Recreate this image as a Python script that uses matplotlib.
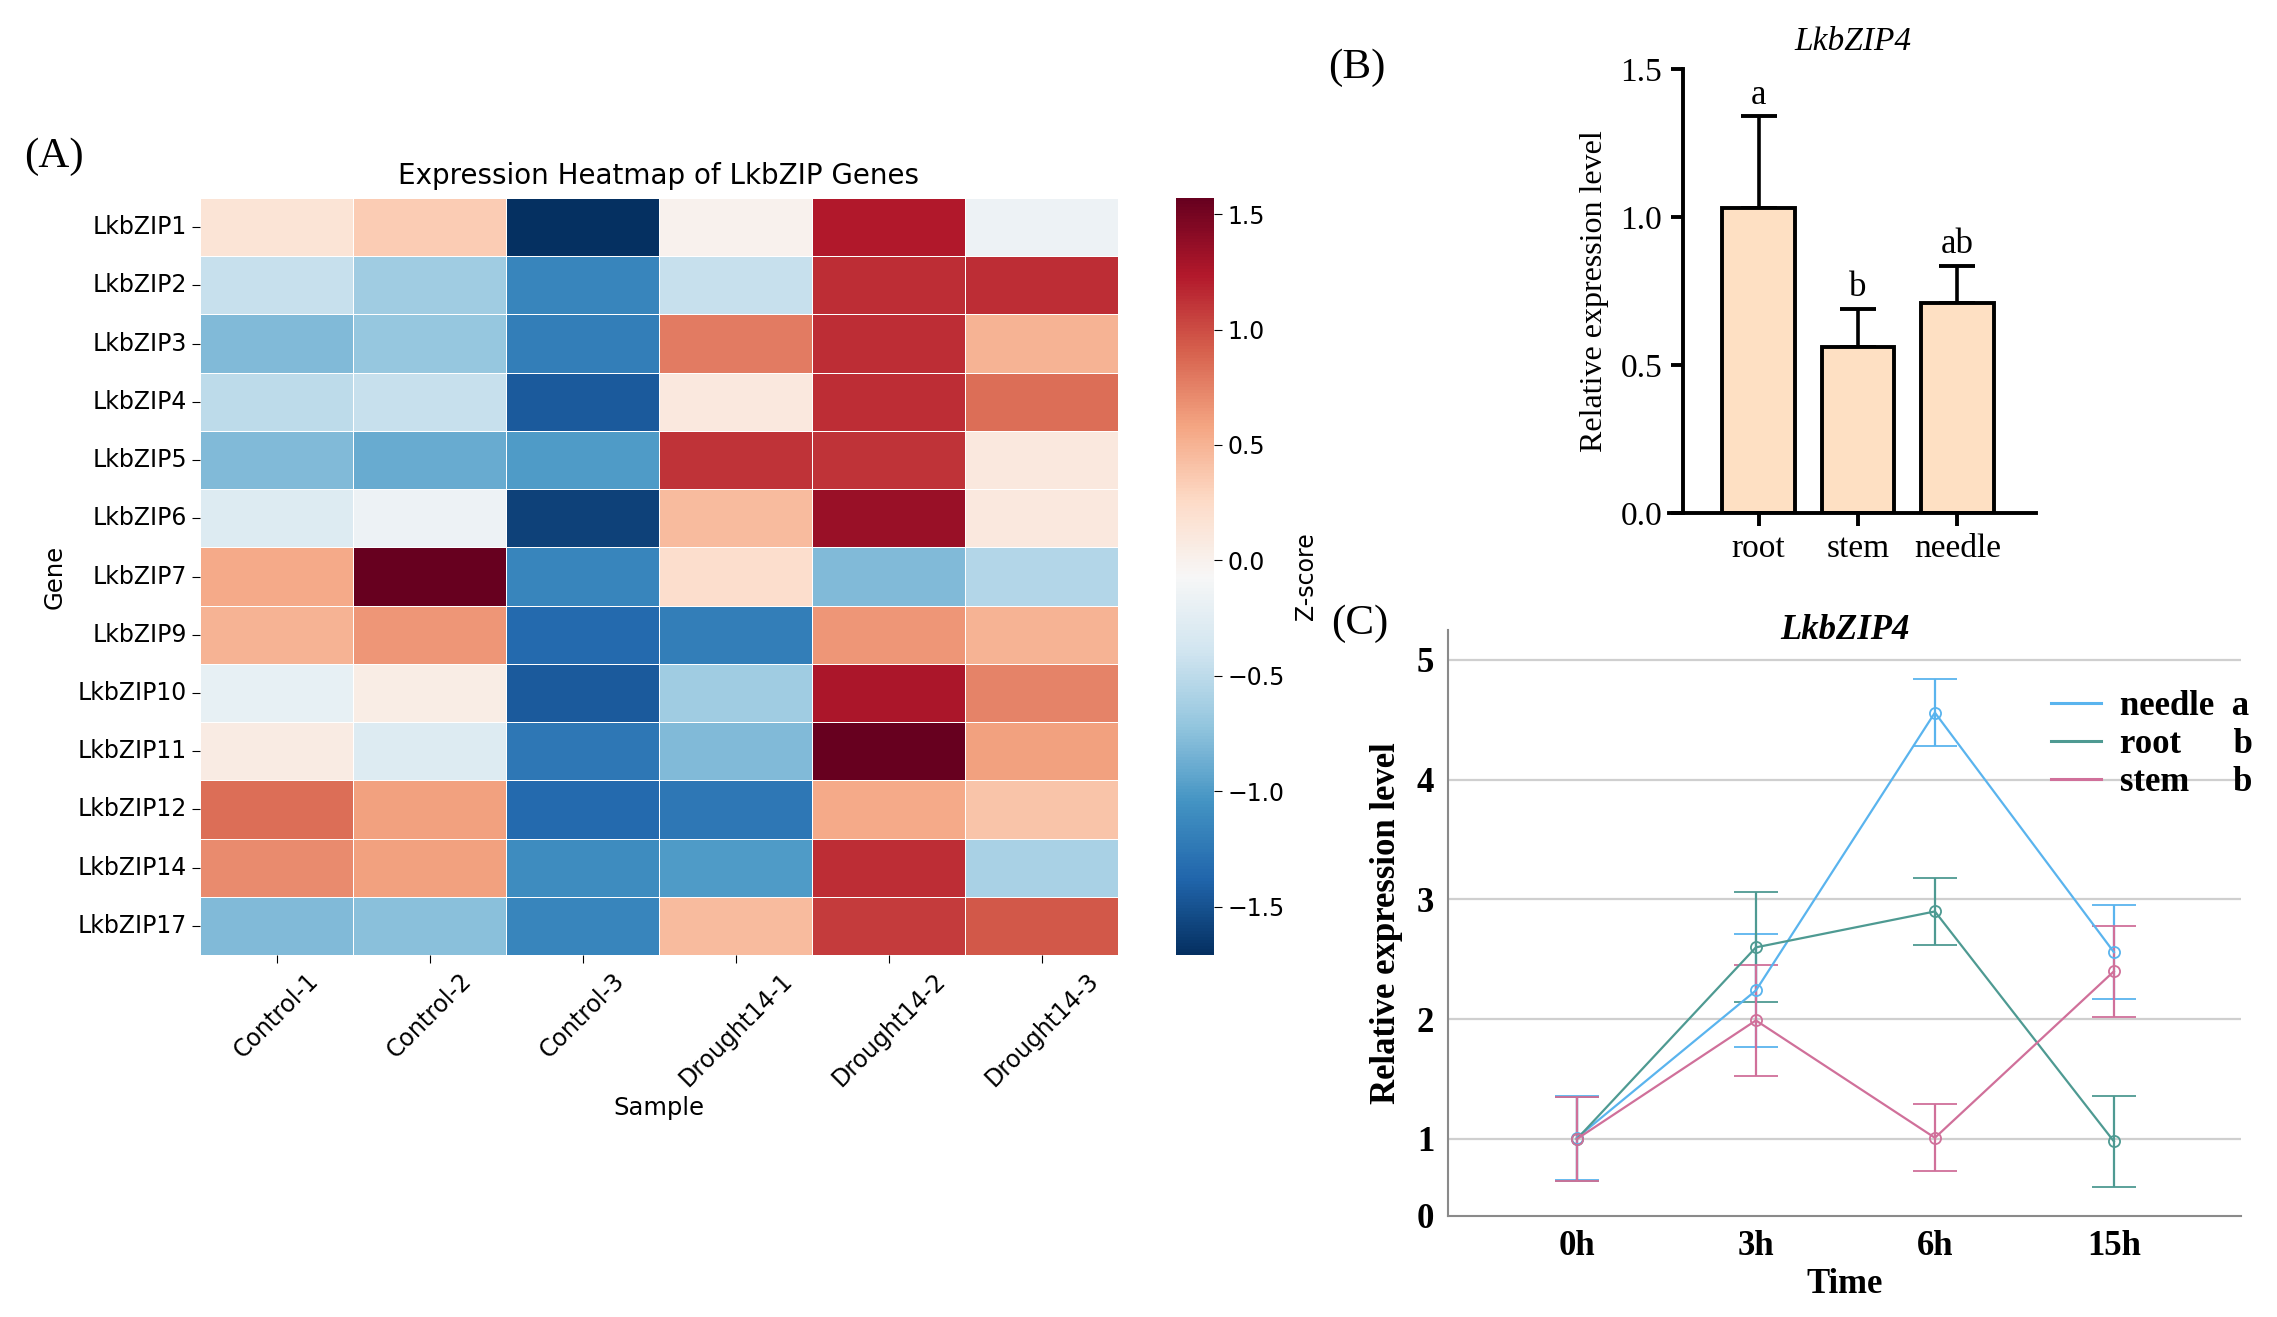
import matplotlib
matplotlib.use("Agg")
import matplotlib.pyplot as plt
from matplotlib.lines import Line2D
import numpy as np
import seaborn as sns

# ---- (A) heatmap data: z-scores per gene ----
genes = ["LkbZIP1", "LkbZIP2", "LkbZIP3", "LkbZIP4", "LkbZIP5", "LkbZIP6", "LkbZIP7",
         "LkbZIP9", "LkbZIP10", "LkbZIP11", "LkbZIP12", "LkbZIP14", "LkbZIP17"]
samples = ["Control-1", "Control-2", "Control-3", "Drought14-1", "Drought14-2", "Drought14-3"]
zscores = [
    [0.15, 0.35, -1.71, 0.00, 1.24, -0.15],
    [-0.45, -0.65, -1.15, -0.45, 1.14, 1.14],
    [-0.80, -0.70, -1.20, 0.78, 1.14, 0.50],
    [-0.50, -0.45, -1.45, 0.10, 1.14, 0.85],
    [-0.80, -0.90, -1.00, 1.11, 1.12, 0.10],
    [-0.30, -0.15, -1.60, 0.45, 1.34, 0.10],
    [0.55, 1.57, -1.15, 0.22, -0.80, -0.55],
    [0.50, 0.65, -1.35, -1.20, 0.65, 0.50],
    [-0.20, 0.05, -1.45, -0.65, 1.27, 0.75],
    [0.07, -0.30, -1.25, -0.80, 1.57, 0.60],
    [0.85, 0.60, -1.35, -1.25, 0.55, 0.40],
    [0.70, 0.60, -1.10, -1.00, 1.14, -0.60],
    [-0.80, -0.75, -1.15, 0.45, 1.08, 0.95],
]

# ---- (B) tissue expression ----
tissues = ["root", "stem", "needle"]
tissue_mean = [1.03, 0.56, 0.71]
tissue_err = [0.31, 0.13, 0.125]
tissue_sig = ["a", "b", "ab"]

# ---- (C) time course ----
times = ["0h", "3h", "6h", "15h"]
needle_mean = [1.01, 2.24, 4.56, 2.56]
needle_err = [0.35, 0.47, 0.28, 0.39]
root_mean = [1.00, 2.60, 2.90, 0.98]
root_err = [0.35, 0.46, 0.28, 0.38]
stem_mean = [1.00, 1.99, 1.01, 2.40]
stem_err = [0.35, 0.46, 0.28, 0.38]

W, H = 2277, 1317
fig = plt.figure(figsize=(W / 100, H / 100), dpi=100)


def px_axes(left, top, right, bottom):
    return fig.add_axes([left / W, 1 - bottom / H, (right - left) / W, (bottom - top) / H])


SERIF = "Liberation Serif"

# ---------------- (A) ----------------
ax = px_axes(200, 198, 1118, 955)
cax = px_axes(1176, 198, 1214, 955)
sns.heatmap(np.array(zscores), ax=ax, cbar_ax=cax, cmap="RdBu_r",
            linewidths=0.6, linecolor="white",
            xticklabels=samples, yticklabels=genes)
ax.set_title("Expression Heatmap of LkbZIP Genes", fontsize=20, pad=10)
ax.set_xlabel("Sample", fontsize=17.5)
ax.set_ylabel("Gene", fontsize=17.5, labelpad=8)
ax.tick_params(axis="both", labelsize=17, length=6)
plt.setp(ax.get_xticklabels(), rotation=45, ha="center")
plt.setp(ax.get_yticklabels(), rotation=0)
cax.tick_params(labelsize=17, length=6)
cax.set_yticks([-1.5, -1.0, -0.5, 0.0, 0.5, 1.0, 1.5])
cax.set_ylabel("Z-score", fontsize=17, labelpad=7)
fig.text(24 / W, 1 - 157 / H, "(A)", fontsize=31, family=SERIF, va="center")

# ---------------- (B) ----------------
axb = px_axes(1669, 69, 2036, 513)
xb = np.arange(len(tissues))
axb.bar(xb, tissue_mean, width=0.73, color="#FEE0C3", edgecolor="black", linewidth=2.8, zorder=2)
axb.errorbar(xb, tissue_mean, yerr=[np.zeros(len(tissues)), tissue_err], fmt="none",
             ecolor="black", elinewidth=2.6, capsize=13, capthick=2.8, zorder=1)
for xi, m, e, s in zip(xb, tissue_mean, tissue_err, tissue_sig):
    axb.text(xi, m + e + 0.015, s, ha="center", va="bottom", fontsize=25, family=SERIF)
axb.set_xlim(-0.9, 2.79)
axb.set_ylim(0, 1.5)
axb.set_yticks([0, 0.5, 1.0, 1.5])
axb.set_yticklabels(["0.0", "0.5", "1.0", "1.5"])
axb.set_xticks(xb)
axb.set_xticklabels(tissues)
axb.spines["top"].set_visible(False)
axb.spines["right"].set_visible(False)
axb.spines["left"].set_position(("data", -0.76))
for sp in ("left", "bottom"):
    axb.spines[sp].set_linewidth(2.8)
axb.tick_params(axis="both", length=9, width=2.8, labelsize=24, pad=6)
for lab in axb.get_xticklabels() + axb.get_yticklabels():
    lab.set_family(SERIF)
axb.set_ylabel("Relative expression level", fontsize=23, family=SERIF, labelpad=8)
axb.set_title("LkbZIP4", fontsize=24, family=SERIF, style="italic", pad=14)
fig.text(1328 / W, 1 - 68 / H, "(B)", fontsize=31, family=SERIF, va="center")

# ---------------- (C) ----------------
axc = px_axes(1448, 630, 2241, 1216)
xc = np.arange(len(times))
series = [("needle  a", needle_mean, needle_err, "#5AB4EE"),
          ("root      b", root_mean, root_err, "#4E9A92"),
          ("stem     b", stem_mean, stem_err, "#D0709A")]
handles = []
for label, m, e, c in series:
    axc.errorbar(xc, m, yerr=e, color=c, lw=1.6, marker="o", ms=8, mfc="none", mew=1.3,
                 capsize=16, capthick=1.8, elinewidth=1.6, zorder=3)
    handles.append(Line2D([], [], color=c, lw=2.2, label=label))
axc.set_xlim(-0.72, 3.71)
axc.set_ylim(0.357, 5.25)
axc.set_yticks([0.357, 1, 2, 3, 4, 5])
axc.set_yticklabels(["0", "1", "2", "3", "4", "5"])
axc.set_xticks(xc)
axc.set_xticklabels(times)
for yv in [1, 2, 3, 4, 5]:
    axc.axhline(yv, color="#cfcfcf", lw=1.6, zorder=1)
axc.spines["top"].set_visible(False)
axc.spines["right"].set_visible(False)
for sp in ("left", "bottom"):
    axc.spines[sp].set_color("#8a8a8a")
    axc.spines[sp].set_linewidth(1.5)
axc.tick_params(axis="both", length=0, labelsize=25, pad=10)
for lab in axc.get_xticklabels() + axc.get_yticklabels():
    lab.set_family(SERIF)
    lab.set_weight("bold")
axc.set_xlabel("Time", fontsize=25, family=SERIF, weight="bold", labelpad=4)
axc.set_ylabel("Relative expression level", fontsize=25, family=SERIF, weight="bold", labelpad=10)
axc.set_title("LkbZIP4", fontsize=25, family=SERIF, weight="bold", style="italic", y=0.985, pad=0)
axc.legend(handles=handles, loc="upper left", bbox_to_anchor=(0.76, 0.898), frameon=False,
           prop={"family": SERIF, "weight": "bold", "size": 25}, handlelength=1.45,
           handletextpad=0.55, labelspacing=0.15, borderpad=0, borderaxespad=0)
fig.text(1331 / W, 1 - 624 / H, "(C)", fontsize=31, family=SERIF, va="center")

fig.savefig("out.png", dpi=100)
